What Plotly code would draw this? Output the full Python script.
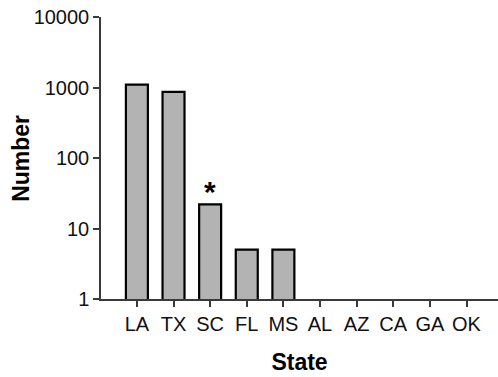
import math
import plotly.graph_objects as go

states = ["LA", "TX", "SC", "FL", "MS", "AL", "AZ", "CA", "GA", "OK"]
counts = [1100, 865, 22, 5, 5, None, None, None, None, None]
marked_state = "SC"
marked_value = 22
y_ticks = [1, 10, 100, 1000, 10000]
y_tick_labels = ["1", "10", "100", "1000", "10000"]

FONT = "Liberation Sans, Arial, sans-serif"
AXC = "#3a3a3a"

fig = go.Figure()
fig.add_trace(go.Bar(
    x=states, y=counts, width=0.6,
    marker=dict(color="#b3b3b3", line=dict(color="#000000", width=2.2)),
    showlegend=False,
))
fig.add_annotation(
    x=marked_state, y=math.log10(marked_value), text="<b>*</b>",
    showarrow=False, yanchor="bottom", yshift=-6,
    font=dict(family=FONT, size=30, color="#000000"),
)
fig.add_annotation(
    xref="paper", yref="paper", x=-0.2015, y=0.497,
    text="<b>Number</b>", textangle=-90, showarrow=False,
    xanchor="center", yanchor="middle",
    font=dict(family=FONT, size=23, color="#000000"),
)
fig.update_layout(
    width=498, height=377,
    margin=dict(l=101, r=0, t=17, b=78),
    paper_bgcolor="white", plot_bgcolor="white",
    font=dict(family=FONT, size=20, color="#111111"),
    bargap=0.4,
)
fig.update_xaxes(
    type="category", range=[-0.98, 9.86],
    showline=True, linecolor=AXC, linewidth=1.5,
    ticks="outside", ticklen=6, tickwidth=1.5, tickcolor=AXC,
    showgrid=False, zeroline=False,
    tickfont=dict(size=20),
    title=dict(text="<b>State</b>", font=dict(size=23, color="#000"), standoff=20),
)
fig.update_yaxes(
    type="log", range=[0, 4],
    tickvals=y_ticks, ticktext=y_tick_labels,
    showline=True, linecolor=AXC, linewidth=1.5,
    ticks="outside", ticklen=6, tickwidth=1.5, tickcolor=AXC,
    showgrid=False, zeroline=False,
    tickfont=dict(size=20),
)
fig.write_html("out.html")
